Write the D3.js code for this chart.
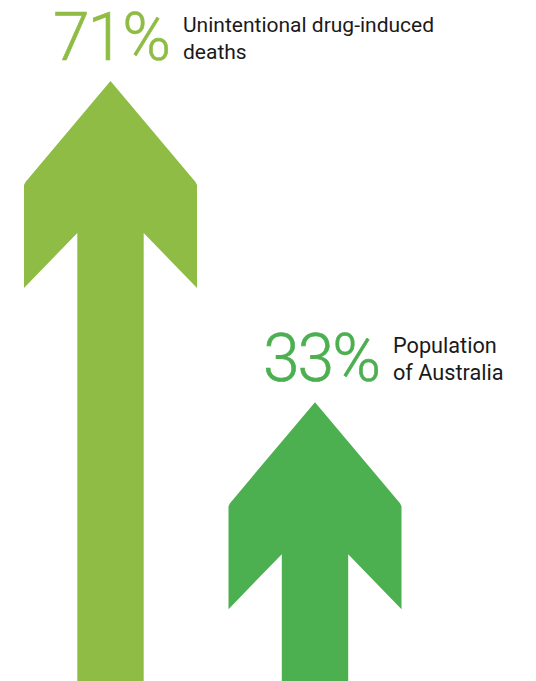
<!DOCTYPE html>
<html lang="en">
<head>
    <meta charset="UTF-8">
    <title>Drug-induced deaths vs population</title>
    <script src="https://d3js.org/d3.v7.min.js"></script>
    <style>
        body {
            margin: 0;
            background-color: #fff;
            font-family: 'Roboto', sans-serif;
        }
        svg { display: block; }
    </style>
</head>
<body>
    <svg id="chart" width="536" height="681"></svg>

    <script>
        // data
        const categories = ["deaths", "population"];
        const percentValues = [71, 33];
        const labelLines = [
            ["Unintentional drug-induced", "deaths"],
            ["Population", "of Australia"]
        ];
        const arrowColors = ["#8fbc45", "#4caf50"];

        // layout tweaks per arrow (label offset from arrow centre, label size)
        const labelDx = [72.5, 78];
        const labelSize = [21, 21.7];

        const width = 536, height = 681;
        const svg = d3.select("#chart");

        // arrow length is proportional to the value
        const y = d3.scaleLinear()
            .domain([0, 71])
            .range([height, 81]);

        const x = d3.scalePoint()
            .domain(categories)
            .range([110.5, 315]);

        // arrow head geometry
        const halfW = 86.5, shaftHalf = 33.2;
        const headH = 102, wingBottom = 207, notch = 152;

        function arrowPath(cx, top) {
            const p = d3.path();
            p.moveTo(cx, top);
            p.lineTo(cx + halfW - 1.5, top + headH - 1);
            p.lineTo(cx + halfW, top + headH + 2);
            p.lineTo(cx + halfW, top + wingBottom);
            p.lineTo(cx + shaftHalf, top + notch);
            p.lineTo(cx + shaftHalf, height);
            p.lineTo(cx - shaftHalf, height);
            p.lineTo(cx - shaftHalf, top + notch);
            p.lineTo(cx - halfW, top + wingBottom);
            p.lineTo(cx - halfW, top + headH + 2);
            p.lineTo(cx - halfW + 1.5, top + headH - 1);
            p.closePath();
            return p.toString();
        }

        const items = categories.map((c, i) => ({
            key: c,
            value: percentValues[i],
            lines: labelLines[i],
            color: arrowColors[i],
            lx: x(c) + labelDx[i],
            size: labelSize[i]
        }));

        const g = svg.selectAll("g.arrow")
            .data(items)
            .enter()
            .append("g")
            .attr("class", "arrow");

        g.append("path")
            .attr("d", d => arrowPath(x(d.key), y(d.value)))
            .attr("fill", d => d.color);

        g.append("text")
            .attr("x", d => d.lx - 14)
            .attr("y", d => y(d.value) - 21)
            .attr("text-anchor", "end")
            .attr("font-size", 66)
            .attr("font-weight", 300)
            .attr("letter-spacing", -2)
            .attr("fill", d => d.color)
            .attr("stroke", d => d.color)
            .attr("stroke-width", 0.6)
            .text(d => d.value + "%");

        const lbl = g.append("text")
            .attr("x", d => d.lx)
            .attr("y", d => y(d.value) - 49)
            .attr("font-size", d => d.size)
            .attr("fill", "#1a1a1a");

        lbl.selectAll("tspan")
            .data(d => d.lines.map(t => ({ t, x: d.lx })))
            .enter()
            .append("tspan")
            .attr("x", d => d.x)
            .attr("dy", (d, i) => i === 0 ? 0 : 26.5)
            .text(d => d.t);
    </script>
</body>
</html>
